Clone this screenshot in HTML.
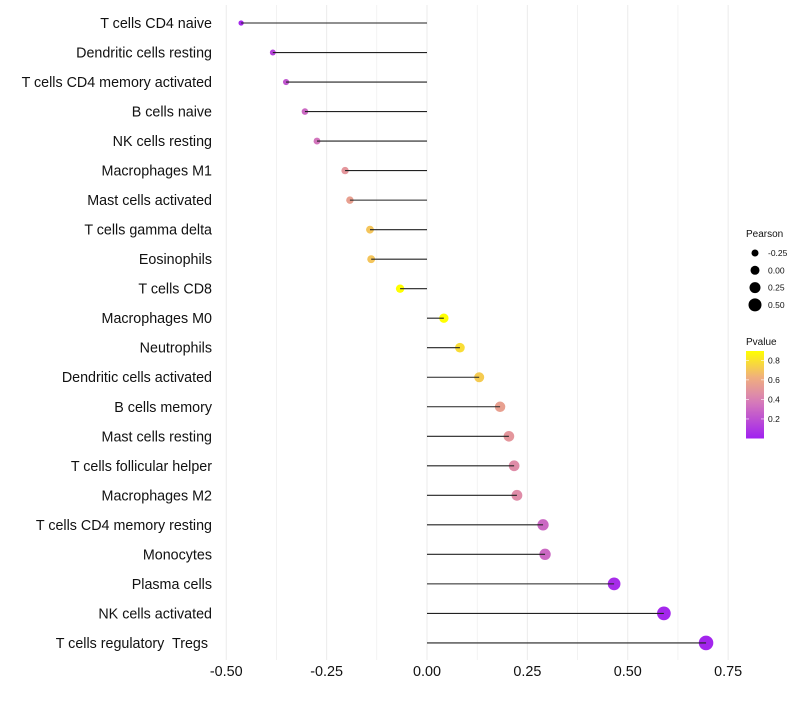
<!DOCTYPE html>
<html><head><meta charset="utf-8"><style>
body{margin:0;background:#fff;font-family:"Liberation Sans",sans-serif}
text{white-space:pre}
</style></head><body>
<svg id="chart" width="800" height="700" xmlns="http://www.w3.org/2000/svg" font-family="Liberation Sans, sans-serif">
<g id="grid"></g>
<g id="marks"></g>
<g id="ylabels"></g>
<g id="xlabels"></g>
<g id="legend"></g>
</svg>
<script>
const categories=["T cells CD4 naive","Dendritic cells resting","T cells CD4 memory activated","B cells naive","NK cells resting","Macrophages M1","Mast cells activated","T cells gamma delta","Eosinophils","T cells CD8","Macrophages M0","Neutrophils","Dendritic cells activated","B cells memory","Mast cells resting","T cells follicular helper","Macrophages M2","T cells CD4 memory resting","Monocytes","Plasma cells","NK cells activated","T cells regulatory  Tregs "];
const pearson=[-0.463,-0.384,-0.351,-0.304,-0.274,-0.204,-0.192,-0.142,-0.139,-0.067,0.042,0.082,0.130,0.182,0.204,0.217,0.224,0.289,0.294,0.466,0.590,0.695];
const pvalue=[0.03,0.15,0.22,0.3,0.35,0.5,0.55,0.7,0.7,0.9,0.95,0.78,0.72,0.55,0.5,0.45,0.45,0.3,0.3,0.05,0.03,0.02];
const xTicks=[-0.5,-0.25,0,0.25,0.5,0.75];
const xTickLabels=["-0.50","-0.25","0.00","0.25","0.50","0.75"];
const sizeBreaks=[-0.25,0,0.25,0.5];
const sizeLabels=["-0.25","0.00","0.25","0.50"];
const pBreaks=[0.2,0.4,0.6,0.8];

const NS="http://www.w3.org/2000/svg";
const x=v=>427+v*401.5;
const y=i=>23+i*29.52;
const r=v=>4.5+4*v;
function lerp(a,b,t){return a.map((c,i)=>Math.round(c+(b[i]-c)*t));}
function color(p){
  const stops=[[0,[160,32,240]],[0.45,[218,130,180]],[0.7,[240,175,125]],[1,[255,255,0]]];
  const t=Math.max(0,Math.min(1,p/0.895));
  for(let i=1;i<stops.length;i++){if(t<=stops[i][0]){const a=stops[i-1],b=stops[i];const c=lerp(a[1],b[1],(t-a[0])/(b[0]-a[0]));return `rgb(${c.join(',')})`;}}
  return "rgb(255,255,0)";
}
function mk(tag,attrs,parent,text){const e=document.createElementNS(NS,tag);for(const k in attrs)e.setAttribute(k,attrs[k]);if(text!==undefined)e.textContent=text;parent.appendChild(e);return e;}
const grid=document.getElementById('grid'),marks=document.getElementById('marks'),yl=document.getElementById('ylabels'),xl=document.getElementById('xlabels'),lg=document.getElementById('legend');
for(let v=-0.5;v<=0.751;v+=0.125){
  const g=mk('line',{x1:x(v),x2:x(v),y1:5,y2:660,stroke:'#ebebeb','stroke-width':Math.abs((v*4)%1)<1e-6?1:0.6},grid);
  
  
}
categories.forEach((c,i)=>{
  const cy=y(i);
  const pt=mk('circle',{cx:x(pearson[i]),cy:cy,r:r(pearson[i]),fill:color(pvalue[i])},marks);
  
  
  const ln=mk('line',{x1:x(0),x2:x(pearson[i]),y1:cy,y2:cy,stroke:'#222','stroke-width':1.1},marks);
  
  
  const t=mk('text',{x:212,y:cy+5,'text-anchor':'end','font-size':14.3,fill:'#111'},yl,c);
  
  
});
xTicks.forEach((v,i)=>{
  const t=mk('text',{x:x(v),y:676,'text-anchor':'middle','font-size':14.4,fill:'#111'},xl,xTickLabels[i]);
  
  
});
const t1=mk('text',{x:746,y:237,'font-size':10,fill:'#111'},lg,'Pearson');


sizeBreaks.forEach((v,i)=>{
  const cy=253+i*17.3;
  const c=mk('circle',{cx:755,cy:cy,r:r(v),fill:'#000'},lg);
  
  
  const t=mk('text',{x:768,y:cy+3,'font-size':8.5,fill:'#111'},lg,sizeLabels[i]);
  
  
});
const t2=mk('text',{x:746,y:345,'font-size':10,fill:'#111'},lg,'Pvalue');


const defs=mk('defs',{},lg);
const grad=mk('linearGradient',{id:'pg',x1:0,y1:1,x2:0,y2:0},defs);
for(let k=0;k<=10;k++){mk('stop',{offset:k/10,'stop-color':color(k/10*0.895)},grad);}
const bar=mk('rect',{x:746,y:351,width:18,height:87.5,fill:'url(#pg)'},lg);


pBreaks.forEach(p=>{
  const cy=438.5-p*97.7;
  mk('line',{x1:746,x2:749,y1:cy,y2:cy,stroke:'#fff','stroke-width':0.6},lg);
  mk('line',{x1:761,x2:764,y1:cy,y2:cy,stroke:'#fff','stroke-width':0.6},lg);
  const t=mk('text',{x:768,y:cy+3,'font-size':8.5,fill:'#111'},lg,p.toFixed(1));
  
  
});
</script>
</body></html>
